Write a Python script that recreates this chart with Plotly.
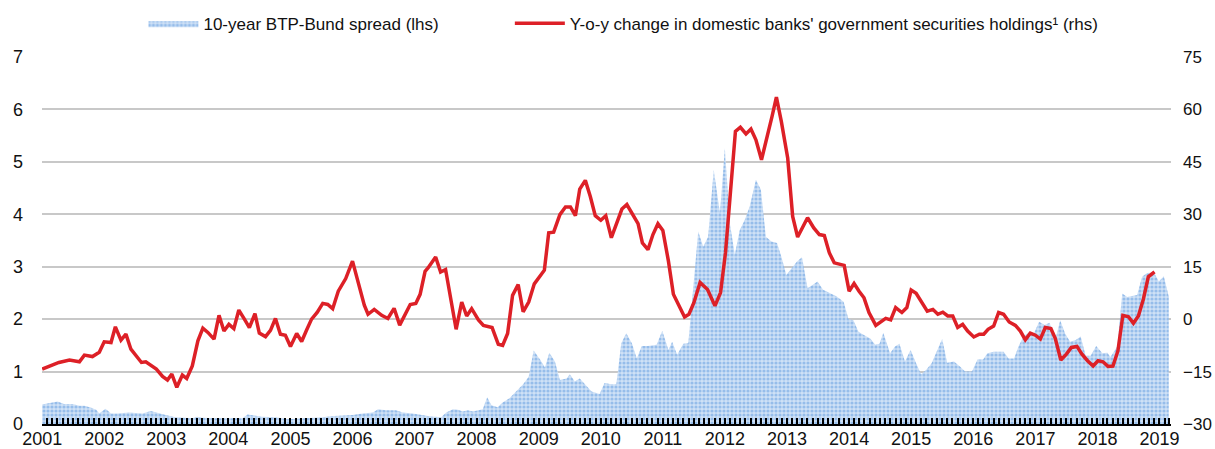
import pandas as pd
import plotly.graph_objects as go

# ---- data ----
# 10-year BTP-Bund spread (lhs), percentage points; x as decimal years
spread_t = [2001.00, 2001.11, 2001.25, 2001.35, 2001.49, 2001.60, 2001.68, 2001.79, 2001.87, 2001.92,
            2002.02, 2002.11, 2002.21, 2002.40, 2002.62, 2002.75, 2002.83, 2002.99, 2003.15, 2003.32,
            2003.42, 2003.50, 2003.58, 2003.80, 2004.02, 2004.23, 2004.31, 2004.39, 2004.55, 2004.77,
            2004.88, 2004.96, 2005.09, 2005.25, 2005.36, 2005.52, 2005.63, 2005.84, 2006.00, 2006.16,
            2006.33, 2006.41, 2006.54, 2006.70, 2006.81, 2006.97, 2007.13, 2007.24, 2007.43, 2007.51,
            2007.62, 2007.70, 2007.78, 2007.86, 2007.94, 2008.05, 2008.10, 2008.17, 2008.24, 2008.34,
            2008.42, 2008.53, 2008.64, 2008.75, 2008.84, 2008.92, 2009.02, 2009.10, 2009.17, 2009.26,
            2009.34, 2009.45, 2009.50, 2009.58, 2009.66, 2009.74, 2009.85, 2009.98, 2010.06, 2010.17,
            2010.25, 2010.33, 2010.41, 2010.50, 2010.58, 2010.66, 2010.76, 2010.90, 2010.99, 2011.09,
            2011.15, 2011.23, 2011.33, 2011.41, 2011.49, 2011.57, 2011.65, 2011.73, 2011.82, 2011.92,
            2012.00, 2012.08, 2012.16, 2012.24, 2012.32, 2012.40, 2012.50, 2012.58, 2012.66, 2012.75,
            2012.84, 2012.91, 2012.99, 2013.08, 2013.16, 2013.24, 2013.33, 2013.41, 2013.49, 2013.58,
            2013.69, 2013.80, 2013.91, 2013.99, 2014.07, 2014.15, 2014.23, 2014.34, 2014.42, 2014.49,
            2014.55, 2014.66, 2014.74, 2014.81, 2014.90, 2014.99, 2015.08, 2015.16, 2015.24, 2015.33,
            2015.41, 2015.50, 2015.58, 2015.69, 2015.79, 2015.87, 2015.98, 2016.07, 2016.16, 2016.23,
            2016.33, 2016.49, 2016.57, 2016.66, 2016.73, 2016.81, 2016.91, 2016.98, 2017.06, 2017.15,
            2017.23, 2017.32, 2017.40, 2017.48, 2017.56, 2017.65, 2017.73, 2017.81, 2017.89, 2017.98,
            2018.08, 2018.16, 2018.21, 2018.32, 2018.40, 2018.48, 2018.64, 2018.72, 2018.80, 2018.91,
            2018.99, 2019.07, 2019.15]
spread_v = [0.37, 0.39, 0.43, 0.38, 0.38, 0.35, 0.35, 0.31, 0.27, 0.20,
            0.29, 0.20, 0.20, 0.22, 0.20, 0.25, 0.22, 0.17, 0.13, 0.12,
            0.11, 0.14, 0.12, 0.11, 0.11, 0.11, 0.18, 0.17, 0.14, 0.13,
            0.11, 0.09, 0.10, 0.11, 0.13, 0.13, 0.15, 0.16, 0.17, 0.20,
            0.22, 0.28, 0.26, 0.26, 0.22, 0.20, 0.17, 0.15, 0.13, 0.22,
            0.28, 0.27, 0.24, 0.26, 0.24, 0.27, 0.28, 0.51, 0.36, 0.32,
            0.41, 0.49, 0.62, 0.76, 0.90, 1.40, 1.23, 1.08, 1.36, 1.19,
            0.84, 0.87, 0.95, 0.81, 0.87, 0.76, 0.62, 0.57, 0.78, 0.76,
            0.76, 1.54, 1.73, 1.54, 1.25, 1.49, 1.49, 1.51, 1.78, 1.41,
            1.57, 1.32, 1.53, 1.54, 2.60, 3.67, 3.38, 3.57, 4.85, 4.02,
            5.26, 3.83, 3.23, 3.70, 3.89, 4.15, 4.66, 4.47, 3.57, 3.48,
            3.45, 3.19, 2.84, 2.97, 3.10, 3.18, 2.59, 2.65, 2.72, 2.56,
            2.49, 2.43, 2.33, 2.00, 1.98, 1.76, 1.70, 1.63, 1.51, 1.53,
            1.74, 1.35, 1.48, 1.53, 1.19, 1.41, 1.16, 0.95, 1.03, 1.16,
            1.38, 1.62, 1.17, 1.19, 1.09, 1.00, 1.00, 1.23, 1.23, 1.35,
            1.38, 1.38, 1.25, 1.25, 1.48, 1.67, 1.76, 1.73, 1.95, 1.89,
            1.93, 1.60, 1.98, 1.72, 1.57, 1.60, 1.67, 1.30, 1.30, 1.49,
            1.35, 1.36, 1.28, 1.48, 2.49, 2.42, 2.46, 2.81, 2.88, 2.89,
            2.72, 2.82, 2.43]

# Y-o-y change in domestic banks' government securities holdings (rhs), per cent
holdings_t = [2001.00, 2001.27, 2001.44, 2001.60, 2001.68, 2001.81, 2001.92, 2002.00, 2002.11, 2002.18,
              2002.27, 2002.35, 2002.43, 2002.60, 2002.67, 2002.84, 2002.94, 2003.02, 2003.09, 2003.17,
              2003.26, 2003.33, 2003.42, 2003.51, 2003.59, 2003.67, 2003.77, 2003.85, 2003.93, 2004.01,
              2004.09, 2004.17, 2004.26, 2004.34, 2004.43, 2004.50, 2004.60, 2004.68, 2004.76, 2004.84,
              2004.92, 2005.00, 2005.10, 2005.18, 2005.26, 2005.34, 2005.43, 2005.52, 2005.60, 2005.68,
              2005.77, 2005.89, 2006.00, 2006.09, 2006.19, 2006.25, 2006.35, 2006.47, 2006.57, 2006.67,
              2006.76, 2006.93, 2007.02, 2007.09, 2007.17, 2007.22, 2007.34, 2007.42, 2007.50, 2007.67,
              2007.76, 2007.84, 2007.92, 2008.03, 2008.11, 2008.25, 2008.35, 2008.42, 2008.50, 2008.58,
              2008.67, 2008.75, 2008.84, 2008.93, 2009.00, 2009.09, 2009.16, 2009.24, 2009.34, 2009.43,
              2009.51, 2009.59, 2009.66, 2009.75, 2009.83, 2009.91, 2010.00, 2010.08, 2010.17, 2010.25,
              2010.34, 2010.42, 2010.52, 2010.60, 2010.67, 2010.76, 2010.84, 2010.92, 2011.00, 2011.09,
              2011.17, 2011.26, 2011.35, 2011.42, 2011.50, 2011.60, 2011.72, 2011.84, 2011.93, 2012.01,
              2012.08, 2012.17, 2012.25, 2012.34, 2012.42, 2012.50, 2012.59, 2012.67, 2012.76, 2012.83,
              2012.91, 2013.01, 2013.09, 2013.17, 2013.25, 2013.33, 2013.43, 2013.52, 2013.60, 2013.68,
              2013.76, 2013.92, 2014.00, 2014.08, 2014.16, 2014.24, 2014.32, 2014.43, 2014.59, 2014.67,
              2014.75, 2014.85, 2014.93, 2015.00, 2015.08, 2015.17, 2015.26, 2015.35, 2015.43, 2015.51,
              2015.59, 2015.67, 2015.75, 2015.83, 2015.91, 2016.01, 2016.10, 2016.17, 2016.24, 2016.33,
              2016.41, 2016.49, 2016.58, 2016.68, 2016.76, 2016.84, 2016.92, 2017.00, 2017.08, 2017.16,
              2017.25, 2017.32, 2017.41, 2017.50, 2017.58, 2017.67, 2017.75, 2017.84, 2017.93, 2018.01,
              2018.09, 2018.17, 2018.25, 2018.33, 2018.41, 2018.50, 2018.58, 2018.66, 2018.74, 2018.82,
              2018.92]
holdings_v = [-14.3, -12.4, -11.7, -12.2, -10.3, -10.7, -9.5, -6.5, -6.7, -2.2,
              -6.0, -4.3, -8.6, -12.4, -12.2, -14.3, -16.4, -17.4, -15.7, -19.5,
              -16.0, -17.0, -13.4, -6.2, -2.6, -3.8, -5.7, 1.1, -3.4, -1.5,
              -2.7, 2.6, 0.0, -2.4, 1.6, -4.0, -5.0, -3.2, 0.2, -4.3,
              -4.6, -7.8, -4.1, -6.4, -3.1, 0.0, 1.9, 4.5, 4.2, 3.0,
              8.0, 11.6, 16.6, 10.4, 4.0, 1.4, 2.8, 1.1, 0.2, 3.1,
              -1.7, 4.2, 4.5, 7.1, 13.7, 14.7, 17.8, 13.5, 14.2, -2.9,
              4.9, 0.9, 3.0, -0.2, -1.8, -2.4, -7.2, -7.5, -4.1, 6.8,
              9.9, 2.1, 4.9, 10.1, 11.8, 14.0, 24.7, 24.9, 29.9, 32.1,
              32.1, 29.6, 37.2, 39.7, 35.1, 29.6, 28.3, 29.6, 23.3, 27.5,
              31.5, 32.8, 29.9, 27.3, 21.8, 19.9, 24.2, 27.3, 25.4, 16.6,
              7.1, 4.0, 0.6, 1.4, 4.7, 10.5, 8.5, 3.8, 7.6, 19.0,
              35.1, 53.7, 54.9, 53.0, 54.4, 51.3, 45.6, 51.1, 58.0, 63.5,
              56.5, 46.1, 29.4, 23.5, 26.1, 29.0, 26.1, 24.2, 23.9, 19.0,
              16.1, 15.4, 8.0, 10.2, 8.0, 6.1, 1.9, -1.8, 0.2, -0.2,
              3.3, 1.9, 3.3, 8.3, 7.4, 4.9, 2.3, 2.8, 1.4, 2.0,
              0.9, 0.9, -2.4, -1.5, -3.4, -5.1, -4.3, -4.3, -2.9, -2.0,
              1.9, 1.4, -0.8, -1.8, -3.4, -5.9, -4.0, -4.6, -5.7, -2.4,
              -2.7, -5.5, -11.7, -10.0, -8.1, -7.8, -10.0, -11.9, -13.4, -11.9,
              -12.2, -13.5, -13.4, -9.1, 1.1, 0.7, -1.2, 0.9, 5.7, 12.1,
              13.5]

spread_name = "10-year BTP-Bund spread (lhs)"
holdings_name = "Y-o-y change in domestic banks' government securities holdings\u00b9 (rhs)"


def to_dates(ts):
    out = []
    for t in ts:
        y = int(t)
        out.append(pd.Timestamp(year=y, month=1, day=1) + pd.Timedelta(days=(t - y) * 365.25))
    return out


FONT = "Liberation Sans, Arial, sans-serif"
TXT = "#111111"

fig = go.Figure()
fig.add_trace(go.Scatter(
    x=to_dates(spread_t), y=spread_v,
    name=spread_name + "\u00a0" * 14,
    mode="lines", line=dict(width=0, color="#8cb8e8"),
    fill="tozeroy", fillcolor="#a9c9ee",
    fillpattern=dict(shape=".", fgcolor="#5e9ade", bgcolor="#cfe1f6", size=4, solidity=0.5),
    yaxis="y",
))
fig.add_trace(go.Scatter(
    x=to_dates(holdings_t), y=holdings_v, name=holdings_name,
    mode="lines", line=dict(width=3.5, color="#dd2027"),
    yaxis="y2",
))

fig.update_layout(
    width=1215, height=449,
    margin=dict(l=42, r=44, t=57, b=25, autoexpand=False),
    paper_bgcolor="white", plot_bgcolor="white",
    font=dict(family=FONT, size=18, color=TXT),
    showlegend=True,
    legend=dict(orientation="h", x=0.515, xanchor="center", y=1.14, yanchor="top",
                font=dict(family=FONT, size=17, color=TXT),
                itemwidth=50, bgcolor="rgba(0,0,0,0)", traceorder="normal"),
    xaxis=dict(
        type="date", range=["2000-12-31", "2019-03-10"], automargin=False,
        tick0="2001-01-01", dtick="M12", tickformat="%Y",
        ticks="inside", ticklen=6, tickwidth=1.5, tickcolor="black",
        minor=dict(dtick="M1", ticks="inside", ticklen=6, tickwidth=1.5, tickcolor="black", showgrid=False),
        showline=True, linecolor="black", linewidth=2,
        showgrid=False, zeroline=False,
        ticklabelstandoff=-3,
        tickfont=dict(family=FONT, size=18, color=TXT),
    ),
    yaxis=dict(
        range=[0, 7], dtick=1, tick0=0, automargin=False,
        showgrid=True, gridcolor="#c8c8c8", gridwidth=2,
        zeroline=False, showline=False, ticks="",
        ticklabelstandoff=18,
        tickfont=dict(family=FONT, size=18, color=TXT),
    ),
    yaxis2=dict(
        range=[-30, 75], dtick=15, tick0=-30, automargin=False,
        overlaying="y", side="right",
        showgrid=False, zeroline=False, showline=False, ticks="",
        ticklabelstandoff=11,
        tickfont=dict(family=FONT, size=17, color=TXT),
    ),
)

# remove the page's default body margin so the 1215x449 figure fills the window exactly
fig.write_html(
    "out.html",
    config={"displayModeBar": False},
    post_script="document.body.style.margin='0px';document.body.style.padding='0px';"
                "document.body.style.overflow='hidden';",
)
